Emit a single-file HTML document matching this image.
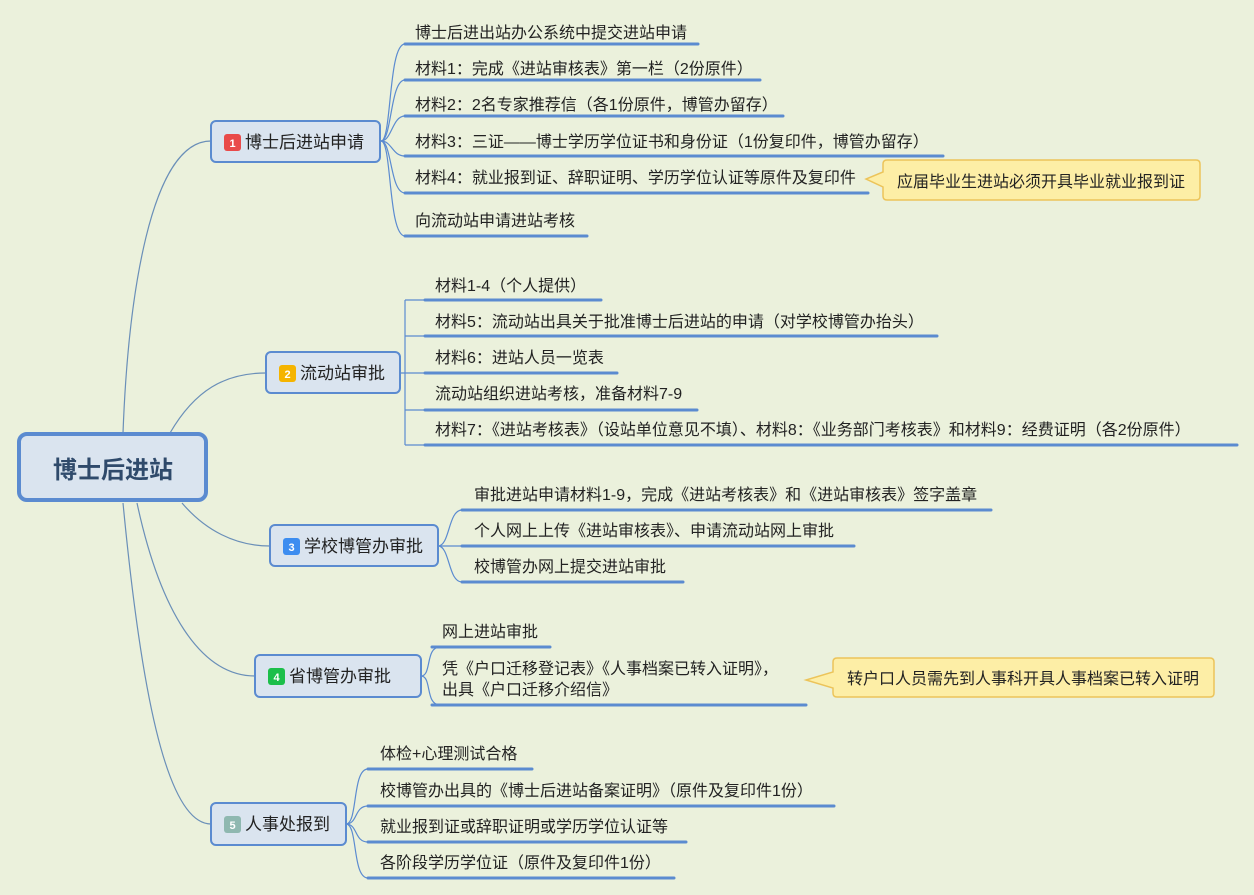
<!DOCTYPE html>
<html><head><meta charset="utf-8"><style>
html,body{margin:0;padding:0;background:#ebf1dc;}
svg{display:block;}
text{font-family:"Liberation Sans","Noto Sans CJK SC",sans-serif;}
</style></head><body>
<svg width="1254" height="895" xmlns="http://www.w3.org/2000/svg">
<rect width="1254" height="895" fill="#ebf1dc"/>
<g fill="none" stroke="#6a8fb8" stroke-width="1.2">
<path d="M123,433 C128,300 150,141 211,141"/>
<path d="M170,433 C195,390 225,373 266,373"/>
<path d="M182,503 C205,530 235,546 270,546"/>
<path d="M137,503 C160,610 200,676 255,676"/>
<path d="M123,503 C140,680 165,824 211,824"/>
</g>
<g fill="none" stroke="#5b8bd0" stroke-width="1.2">
<path d="M381,141 C392,141 388,44 405,44"/>
<path d="M381,141 C392,141 390,80 405,80"/>
<path d="M381,141 C392,141 392,116 405,116"/>
<path d="M381,141 C392,141 392,156 405,156"/>
<path d="M381,141 C392,141 390,193 405,193"/>
<path d="M381,141 C392,141 388,236 405,236"/>
<path d="M400,373 L405,373 M405,300 L405,445 M405,300 L430,300 M405,336 L430,336 M405,373 L430,373 M405,410 L430,410 M405,445 L430,445"/>
<path d="M438,546 C450,546 448,510 462,510"/>
<path d="M438,546 C450,546 450,546 462,546"/>
<path d="M438,546 C450,546 448,582 462,582"/>
<path d="M421,676 C432,676 425,647 440,647"/>
<path d="M421,676 C432,676 425,705 440,705"/>
<path d="M346,824 C358,824 352,769 368,769"/>
<path d="M346,824 C358,824 354,806 368,806"/>
<path d="M346,824 C358,824 354,842 368,842"/>
<path d="M346,824 C358,824 352,878 368,878"/>
</g>
<g stroke="#5b8bd0" stroke-width="3" stroke-linecap="round">
<line x1="405" y1="44" x2="698" y2="44"/>
<line x1="405" y1="80" x2="760" y2="80"/>
<line x1="405" y1="116" x2="783" y2="116"/>
<line x1="405" y1="156" x2="943" y2="156"/>
<line x1="405" y1="193" x2="868" y2="193"/>
<line x1="405" y1="236" x2="587" y2="236"/>
<line x1="425" y1="300" x2="601" y2="300"/>
<line x1="425" y1="336" x2="937" y2="336"/>
<line x1="425" y1="373" x2="617" y2="373"/>
<line x1="425" y1="410" x2="697" y2="410"/>
<line x1="425" y1="445" x2="1237" y2="445"/>
<line x1="462" y1="510" x2="991" y2="510"/>
<line x1="462" y1="546" x2="854" y2="546"/>
<line x1="462" y1="582" x2="683" y2="582"/>
<line x1="432" y1="647" x2="550" y2="647"/>
<line x1="432" y1="705" x2="806" y2="705"/>
<line x1="368" y1="769" x2="532" y2="769"/>
<line x1="368" y1="806" x2="834" y2="806"/>
<line x1="368" y1="842" x2="686" y2="842"/>
<line x1="368" y1="878" x2="674" y2="878"/>
</g>
<g font-size="16" fill="#222">
<text x="415" y="38">博士后进出站办公系统中提交进站申请</text>
<text x="415" y="74">材料1：完成《进站审核表》第一栏（2份原件）</text>
<text x="415" y="110">材料2：2名专家推荐信（各1份原件，博管办留存）</text>
<text x="415" y="147">材料3：三证——博士学历学位证书和身份证（1份复印件，博管办留存）</text>
<text x="415" y="183">材料4：就业报到证、辞职证明、学历学位认证等原件及复印件</text>
<text x="415" y="226">向流动站申请进站考核</text>
<text x="435" y="291">材料1-4（个人提供）</text>
<text x="435" y="327">材料5：流动站出具关于批准博士后进站的申请（对学校博管办抬头）</text>
<text x="435" y="363">材料6：进站人员一览表</text>
<text x="435" y="399">流动站组织进站考核，准备材料7-9</text>
<text x="435" y="435">材料7：《进站考核表》（设站单位意见不填）、材料8：《业务部门考核表》和材料9：经费证明（各2份原件）</text>
<text x="474" y="500">审批进站申请材料1-9，完成《进站考核表》和《进站审核表》签字盖章</text>
<text x="474" y="536">个人网上上传《进站审核表》、申请流动站网上审批</text>
<text x="474" y="572">校博管办网上提交进站审批</text>
<text x="442" y="637">网上进站审批</text>
<text x="442" y="674">凭《户口迁移登记表》《人事档案已转入证明》，</text>
<text x="442" y="695">出具《户口迁移介绍信》</text>
<text x="380" y="759">体检+心理测试合格</text>
<text x="380" y="796">校博管办出具的《博士后进站备案证明》（原件及复印件1份）</text>
<text x="380" y="832">就业报到证或辞职证明或学历学位认证等</text>
<text x="380" y="868">各阶段学历学位证（原件及复印件1份）</text>
</g>
<path d="M887,160 H1196 Q1200,160 1200,164 V196 Q1200,200 1196,200 H887 Q883,200 883,196 V187 L866,179 L883,172 V164 Q883,160 887,160 Z" fill="#fdeea6" stroke="#ecc45a" stroke-width="1.5"/>
<text x="897" y="187" font-size="16" fill="#222">应届毕业生进站必须开具毕业就业报到证</text>
<path d="M837,658 H1210 Q1214,658 1214,662 V693 Q1214,697 1210,697 H837 Q833,697 833,693 V688 L806,680 L833,672 V662 Q833,658 837,658 Z" fill="#fdeea6" stroke="#ecc45a" stroke-width="1.5"/>
<text x="847" y="684" font-size="16" fill="#222">转户口人员需先到人事科开具人事档案已转入证明</text>
<rect x="19" y="434" width="187" height="66" rx="8" fill="#dae4ef" stroke="#5b8bd0" stroke-width="4"/>
<text x="113" y="478" font-size="24" font-weight="bold" fill="#2f4a6b" text-anchor="middle">博士后进站</text>
<g fill="#dae4ef" stroke="#5b8bd0" stroke-width="2">
<rect x="211" y="121" width="169" height="41" rx="5"/>
<rect x="266" y="352" width="134" height="41" rx="5"/>
<rect x="270" y="525" width="168" height="41" rx="5"/>
<rect x="255" y="655" width="166" height="42" rx="5"/>
<rect x="211" y="803" width="135" height="42" rx="5"/>
</g>
<g font-size="11" font-weight="bold" fill="#fff" text-anchor="middle">
<rect x="224" y="134" width="17" height="17" rx="3" fill="#e94a4a"/><text x="232.5" y="147">1</text>
<rect x="279" y="365" width="17" height="17" rx="3" fill="#f5b400"/><text x="287.5" y="378">2</text>
<rect x="283" y="538" width="17" height="17" rx="3" fill="#3d8df0"/><text x="291.5" y="551">3</text>
<rect x="268" y="668" width="17" height="17" rx="3" fill="#1cbf4a"/><text x="276.5" y="681">4</text>
<rect x="224" y="816" width="17" height="17" rx="3" fill="#8fb8b0"/><text x="232.5" y="829">5</text>
</g>
<g font-size="17" fill="#222">
<text x="245" y="148">博士后进站申请</text>
<text x="300" y="379">流动站审批</text>
<text x="304" y="552">学校博管办审批</text>
<text x="289" y="682">省博管办审批</text>
<text x="245" y="830">人事处报到</text>
</g>
</svg>
</body></html>
